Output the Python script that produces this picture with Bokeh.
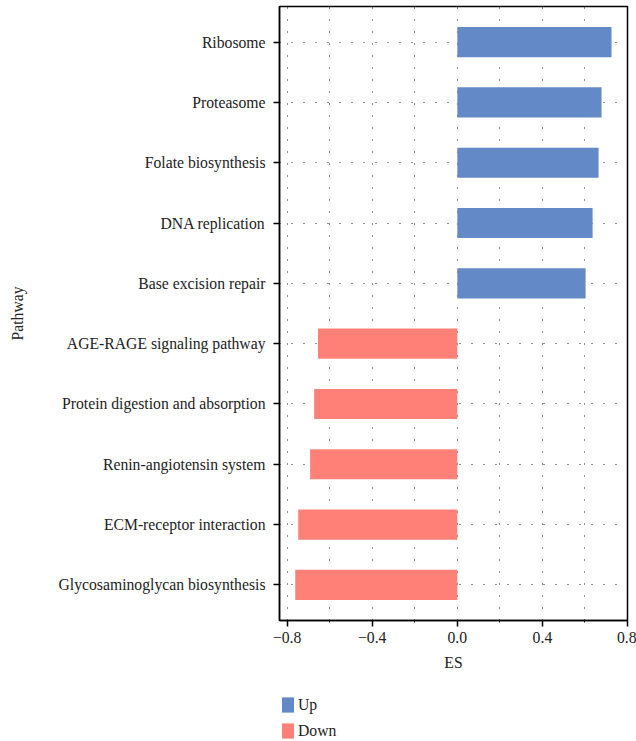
from bokeh.plotting import figure
from bokeh.layouts import column
from bokeh.models import (Range1d, FixedTicker, CustomJSTickFormatter, Legend, LegendItem,
                          ColumnDataSource, FactorRange)
from bokeh.embed import file_html
from bokeh.resources import INLINE

# ---- data ----
pathways = ["Ribosome", "Proteasome", "Folate biosynthesis", "DNA replication",
            "Base excision repair", "AGE-RAGE signaling pathway",
            "Protein digestion and absorption", "Renin-angiotensin system",
            "ECM-receptor interaction", "Glycosaminoglycan biosynthesis"]
es = [0.725, 0.678, 0.664, 0.636, 0.603, -0.655, -0.673, -0.692, -0.748, -0.762]
groups = ["Up" if v > 0 else "Down" for v in es]
group_names = ["Up", "Down"]
group_colors = {"Up": "#6389c6", "Down": "#ff8077"}
x_ticks = [-0.8, -0.4, 0.0, 0.4, 0.8]
x_minor = [-0.6, -0.2, 0.2, 0.6]

FONT = "Liberation Serif"
FS = "15.7px"
TXT = "#222222"

factors = list(reversed(pathways))  # bottom-to-top
p = figure(width=636, height=680, output_backend="svg", toolbar_location=None,
           y_range=FactorRange(factors=factors, range_padding=0.09, range_padding_units="absolute"),
           x_range=Range1d(-0.836, 0.8),
           min_border_left=279, min_border_right=9, min_border_top=6, min_border_bottom=60)

renderers = {}
for g in group_names:
    src = ColumnDataSource(dict(
        y=[pw for pw, gg in zip(pathways, groups) if gg == g],
        right=[v for v, gg in zip(es, groups) if gg == g]))
    renderers[g] = p.hbar(y="y", left=0, right="right", height=0.5, source=src,
                          fill_color=group_colors[g], line_color=None)

# axes
p.xaxis.ticker = FixedTicker(ticks=x_ticks, minor_ticks=x_minor)
p.xaxis.formatter = CustomJSTickFormatter(code="return tick.toFixed(1).replace('-', '\u2212');")
p.xaxis.axis_label = "ES"
p.yaxis.axis_label = "Pathway"
for ax in [p.xaxis[0], p.yaxis[0]]:
    ax.axis_line_width = 1.5
    ax.axis_line_color = "black"
    ax.major_tick_line_color = "black"
    ax.major_tick_line_width = 1.5
    ax.major_tick_out = 6
    ax.major_tick_in = 0
    ax.major_label_text_font = FONT
    ax.major_label_text_font_size = FS
    ax.major_label_text_color = TXT
    ax.axis_label_text_font = FONT
    ax.axis_label_text_font_size = FS
    ax.axis_label_text_font_style = "normal"
    ax.axis_label_text_color = TXT
p.xaxis.minor_tick_out = 2
p.xaxis.minor_tick_in = 0
p.xaxis.minor_tick_line_color = "black"
p.yaxis.minor_tick_line_color = None
p.xaxis.major_label_standoff = 5
p.xaxis.axis_label_standoff = 8
p.yaxis.major_label_standoff = 8
p.yaxis.axis_label_standoff = 30

# grid
for attr in ["grid_line", "minor_grid_line"]:
    setattr(p.xgrid, attr + "_color", "black")
    setattr(p.xgrid, attr + "_alpha", 0.85)
    setattr(p.xgrid, attr + "_dash", "1 11")
p.ygrid.grid_line_color = "black"
p.ygrid.grid_line_alpha = 0.85
p.ygrid.grid_line_dash = "1 11"

p.outline_line_color = "black"
p.outline_line_width = 1.5
p.outline_line_alpha = 1.0

# ---- legend panel (separate small figure below) ----
lg = figure(width=636, height=61, output_backend="svg", toolbar_location=None,
            x_range=Range1d(0, 1), y_range=Range1d(0, 1),
            min_border_left=279, min_border_right=9, min_border_top=0, min_border_bottom=0)
lg.axis.visible = False
lg.grid.visible = False
lg.outline_line_color = None
lg.background_fill_alpha = 0
lrs = {}
for g in group_names:
    # legend swatches only; bars lie outside the visible range
    lrs[g] = lg.hbar(y=[-10], left=[0], right=[1], height=0.5,
                     fill_color=group_colors[g], line_color=None)
legend = Legend(items=[LegendItem(label=g, renderers=[lrs[g]]) for g in group_names],
                location=(1, 1), orientation="vertical",
                glyph_width=15, glyph_height=19, label_height=18, spacing=7,
                label_text_font=FONT, label_text_font_size=FS, label_text_color=TXT,
                label_standoff=3, padding=0, margin=0,
                border_line_color=None, background_fill_alpha=0)
lg.add_layout(legend, "center")

layout = column(p, lg, spacing=0)
open("out.html", "w").write(file_html(layout, INLINE))
